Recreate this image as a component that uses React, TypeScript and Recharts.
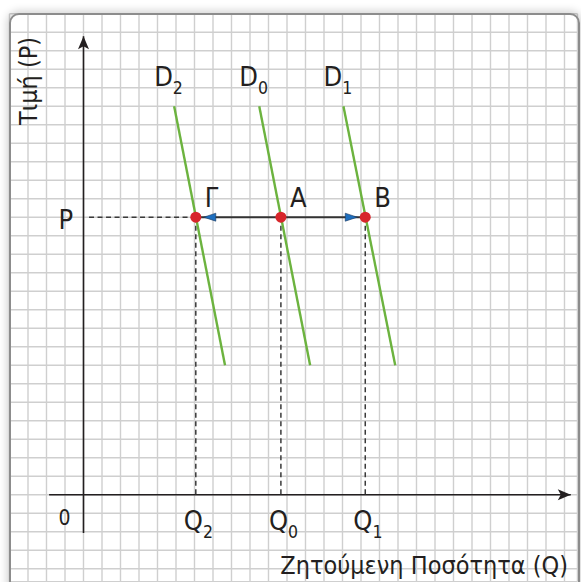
import React from 'react';
import { ComposedChart, XAxis, YAxis, CartesianGrid, ReferenceLine, ReferenceDot, Scatter } from 'recharts';

// demand curves D2, D0, D1 (top and bottom ends)
const curveSubs = ['2', '0', '1'];
const qTop = [4.9, 9.5, 14.05];
const qBottom = [7.65, 12.25, 16.85];
const pTop = 21;
const pBottom = 7;

// equilibrium at price P
const price = 15;
const qEq = [6.07, 10.67, 15.23];
const pointNames = ['Γ', 'Α', 'Β'];
const qSubs = ['2', '0', '1'];

// axis line extents
const xAxisLine = [-1.86, 26.34];
const yAxisLine = [-2.07, 24.78];

const gridQ = Array.from({ length: 31 }, (_, i) => i - 4);
const gridP = Array.from({ length: 31 }, (_, i) => i - 4);

const FONT = "'DejaVu Sans Condensed', 'DejaVu Sans', sans-serif";
const INK = '#231f20';
const GREEN = '#6cb33f';
const RED = '#d7262b';
const BLUE = '#1e6fbf';

const points = qEq.map((q, i) => ({ q, p: price, name: pointNames[i] }));

const seg = (stroke: string, width: number, dash?: string, marker?: string) => (p: any) => (
  <line
    x1={p.x1}
    y1={p.y1}
    x2={p.x2}
    y2={p.y2}
    stroke={stroke}
    strokeWidth={width}
    strokeDasharray={dash}
    markerEnd={marker}
  />
);

const subLabel = (main: string, sub: string, dx: number, dy: number, size: number) => (p: any) => (
  <text x={p.cx + dx} y={p.cy + dy} style={{ fontSize: size, fontFamily: FONT }} fill={INK}>
    {main}
    <tspan style={{ fontSize: size * 0.65 }} dy={size * 0.3}>{sub}</tspan>
  </text>
);

const plainLabel = (txt: string, dx: number, dy: number, size: number) => (p: any) => (
  <text x={p.cx + dx} y={p.cy + dy} style={{ fontSize: size, fontFamily: FONT }} fill={INK}>
    {txt}
  </text>
);

const dot = (p: any) => <circle cx={p.cx} cy={p.cy} r={5.5} fill={RED} />;

export default function App() {
  return (
    <div style={{ position: 'fixed', left: 0, top: 0, width: 581, height: 582, overflow: 'hidden', background: '#fff' }}>
      <ComposedChart
        width={581}
        height={582}
        data={points}
        margin={{ top: 13.7, right: 3.55, bottom: 0.35, left: 9.5 }}
      >
        <defs>
          <marker id="axisArrow" markerUnits="userSpaceOnUse" markerWidth={14} markerHeight={11} refX={13} refY={5.5} orient="auto" overflow="visible">
            <path d="M0,0 L13,5.5 L0,11 L3,5.5 z" fill={INK} />
          </marker>
          <marker id="blueArrow" markerUnits="userSpaceOnUse" markerWidth={12} markerHeight={8} refX={20} refY={4} orient="auto" overflow="visible">
            <path d="M0,0 L12,4 L0,8 z" fill={BLUE} stroke="#17365d" strokeWidth={0.6} />
          </marker>
        </defs>
        <CartesianGrid stroke="#cfcfcf" strokeWidth={1.4} />
        <XAxis
          type="number"
          dataKey="q"
          domain={[-4, 26.7]}
          ticks={gridQ}
          interval={0}
          allowDataOverflow
          hide
        />
        <YAxis
          type="number"
          dataKey="p"
          domain={[-4.7, 26]}
          ticks={gridP}
          interval={0}
          allowDataOverflow
          hide
        />

        {/* axes */}
        <ReferenceLine
          ifOverflow="visible"
          segment={[{ x: xAxisLine[0], y: 0 }, { x: xAxisLine[1], y: 0 }]}
          shape={seg(INK, 1.6, undefined, 'url(#axisArrow)')}
        />
        <ReferenceLine
          ifOverflow="visible"
          segment={[{ x: 0, y: yAxisLine[0] }, { x: 0, y: yAxisLine[1] }]}
          shape={seg(INK, 1.6, undefined, 'url(#axisArrow)')}
        />

        {/* dashed guides */}
        <ReferenceLine
          ifOverflow="visible"
          segment={[{ x: 0.3, y: price }, { x: qEq[0], y: price }]}
          shape={seg('#3a3a3a', 1.5, '5 3.5')}
        />
        {qEq.map((q, i) => (
          <ReferenceLine
            key={'v' + i}
            ifOverflow="visible"
            segment={[{ x: q, y: price }, { x: q, y: 0 }]}
            shape={seg('#3a3a3a', 1.5, '5 3.5')}
          />
        ))}

        {/* demand curves */}
        {qTop.map((q, i) => (
          <ReferenceLine
            key={'d' + i}
            ifOverflow="visible"
            segment={[{ x: q, y: pTop }, { x: qBottom[i], y: pBottom }]}
            shape={seg(GREEN, 2.4)}
          />
        ))}

        {/* shift arrows from A */}
        <ReferenceLine
          ifOverflow="visible"
          segment={[{ x: qEq[1], y: price }, { x: qEq[0], y: price }]}
          shape={seg('#333', 2, undefined, 'url(#blueArrow)')}
        />
        <ReferenceLine
          ifOverflow="visible"
          segment={[{ x: qEq[1], y: price }, { x: qEq[2], y: price }]}
          shape={seg('#333', 2, undefined, 'url(#blueArrow)')}
        />

        {/* labels */}
        {qTop.map((q, i) => (
          <ReferenceDot key={'dl' + i} x={q} y={pTop} r={0} ifOverflow="visible" shape={subLabel('D', curveSubs[i], -20, -20.5, 27)} />
        ))}
        {qEq.map((q, i) => (
          <ReferenceDot key={'pl' + i} x={q} y={price} r={0} ifOverflow="visible" shape={plainLabel(pointNames[i], 9, -10, 27)} />
        ))}
        {qEq.map((q, i) => (
          <ReferenceDot key={'ql' + i} x={q} y={0} r={0} ifOverflow="visible" shape={subLabel('Q', qSubs[i], -12, 35, 27)} />
        ))}
        <ReferenceDot x={0} y={price} r={0} ifOverflow="visible" shape={plainLabel('P', -25, 12, 27)} />
        <ReferenceDot x={0} y={0} r={0} ifOverflow="visible" shape={plainLabel('0', -25, 30, 21)} />

        <text x={568} y={574} textAnchor="end" style={{ fontSize: 25, fontFamily: FONT }} fill={INK}>
          Ζητούμενη Ποσότητα (Q)
        </text>
        <text transform="translate(37,81) rotate(-90)" textAnchor="middle" style={{ fontSize: 25, fontFamily: FONT }} fill={INK}>
          Τιμή (P)
        </text>

        <Scatter dataKey="p" isAnimationActive={false} shape={dot} />
      </ComposedChart>
      <div
        style={{
          position: 'absolute',
          left: 9,
          top: 13,
          width: 567,
          height: 600,
          border: '2px solid #8c8c8c',
          borderRadius: 10,
          boxShadow: '0 0 8px 2px rgba(0,0,0,0.18)',
          pointerEvents: 'none',
        }}
      />
    </div>
  );
}
